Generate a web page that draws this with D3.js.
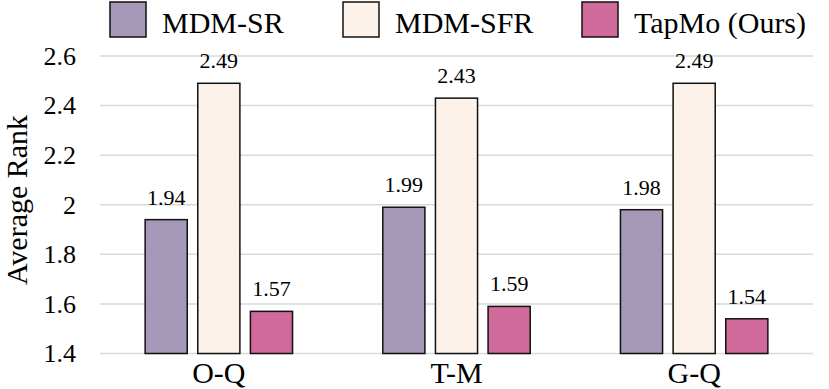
<!DOCTYPE html>
<html>
<head>
<meta charset="utf-8">
<script src="https://cdn.jsdelivr.net/npm/d3@7"></script>
<style>
  body { margin: 0; background: #fff; }
  svg { display: block; }
  svg text { font-family: 'Liberation Serif', 'Times New Roman', Times, 'DejaVu Serif', serif; }
</style>
</head>
<body>
<svg id="chart" width="829" height="389"></svg>
<script>
var categories = ['O-Q', 'T-M', 'G-Q'];
var series = ['MDM-SR', 'MDM-SFR', 'TapMo (Ours)'];
var mdmSR = [1.94, 1.99, 1.98];
var mdmSFR = [2.49, 2.43, 2.49];
var tapmo = [1.57, 1.59, 1.54];
var yTicks = [1.4, 1.6, 1.8, 2, 2.2, 2.4, 2.6];
var colours = ['#a598b8', '#fdf2e9', '#cf6a9a'];

var values = [mdmSR, mdmSFR, tapmo];

var svg = d3.select('#chart')
  .attr('font-family', "'Liberation Serif', 'Times New Roman', serif");
var plotL = 100, plotR = 813, plotT = 56, plotB = 353.5;

var y = d3.scaleLinear().domain([1.4, 2.6]).range([plotB, plotT]);
var x = d3.scaleBand().domain(categories).range([plotL, plotR]);
var xSub = d3.scaleBand().domain(series).range([-73.7, 73.7]).paddingInner(0.2);

// grid lines
svg.append('g')
  .selectAll('line')
  .data(yTicks)
  .join('line')
    .attr('x1', plotL).attr('x2', plotR)
    .attr('y1', function(d) { return y(d); })
    .attr('y2', function(d) { return y(d); })
    .attr('stroke', '#d9d9d9')
    .attr('stroke-width', 1.5);

// y tick labels
svg.append('g')
  .selectAll('text')
  .data(yTicks)
  .join('text')
    .attr('x', 76)
    .attr('y', function(d) { return y(d); })
    .attr('dy', '0.34em')
    .attr('text-anchor', 'end')
    .attr('font-size', 26)
    .text(function(d) { return d3.format('~g')(d); });

// y title
svg.append('text')
  .attr('transform', 'translate(27,200) rotate(-90)')
  .attr('text-anchor', 'middle')
  .attr('font-size', 30)
  .text('Average Rank');

// bars
var rows = [];
categories.forEach(function(c, i) {
  series.forEach(function(s, j) {
    rows.push({ cat: c, series: s, value: values[j][i], colour: colours[j] });
  });
});

var groups = svg.append('g');
groups.selectAll('rect')
  .data(rows)
  .join('rect')
    .attr('x', function(d) { return x(d.cat) + x.bandwidth() / 2 + xSub(d.series); })
    .attr('y', function(d) { return y(d.value); })
    .attr('width', xSub.bandwidth())
    .attr('height', function(d) { return y(1.4) - y(d.value); })
    .attr('fill', function(d) { return d.colour; })
    .attr('stroke', '#111')
    .attr('stroke-width', 1.5);

groups.selectAll('text')
  .data(rows)
  .join('text')
    .attr('x', function(d) { return x(d.cat) + x.bandwidth() / 2 + xSub(d.series) + xSub.bandwidth() / 2; })
    .attr('y', function(d) { return y(d.value) - 15; })
    .attr('text-anchor', 'middle')
    .attr('font-size', 22)
    .text(function(d) { return d.value.toFixed(2); });

// x category labels
svg.append('g')
  .selectAll('text')
  .data(categories)
  .join('text')
    .attr('x', function(d) { return x(d) + x.bandwidth() / 2; })
    .attr('y', 383)
    .attr('text-anchor', 'middle')
    .attr('font-size', 30)
    .text(function(d) { return d; });

// legend
var legendX = [110, 343, 582];
var legend = svg.append('g')
  .selectAll('g')
  .data(series)
  .join('g')
    .attr('transform', function(d, i) { return 'translate(' + legendX[i] + ',2)'; });

legend.append('rect')
  .attr('width', 36).attr('height', 35)
  .attr('fill', function(d, i) { return colours[i]; })
  .attr('stroke', '#111')
  .attr('stroke-width', 1.5);

legend.append('text')
  .attr('x', 52)
  .attr('y', 31)
  .attr('font-size', 30)
  .text(function(d) { return d; });
</script>
</body>
</html>
